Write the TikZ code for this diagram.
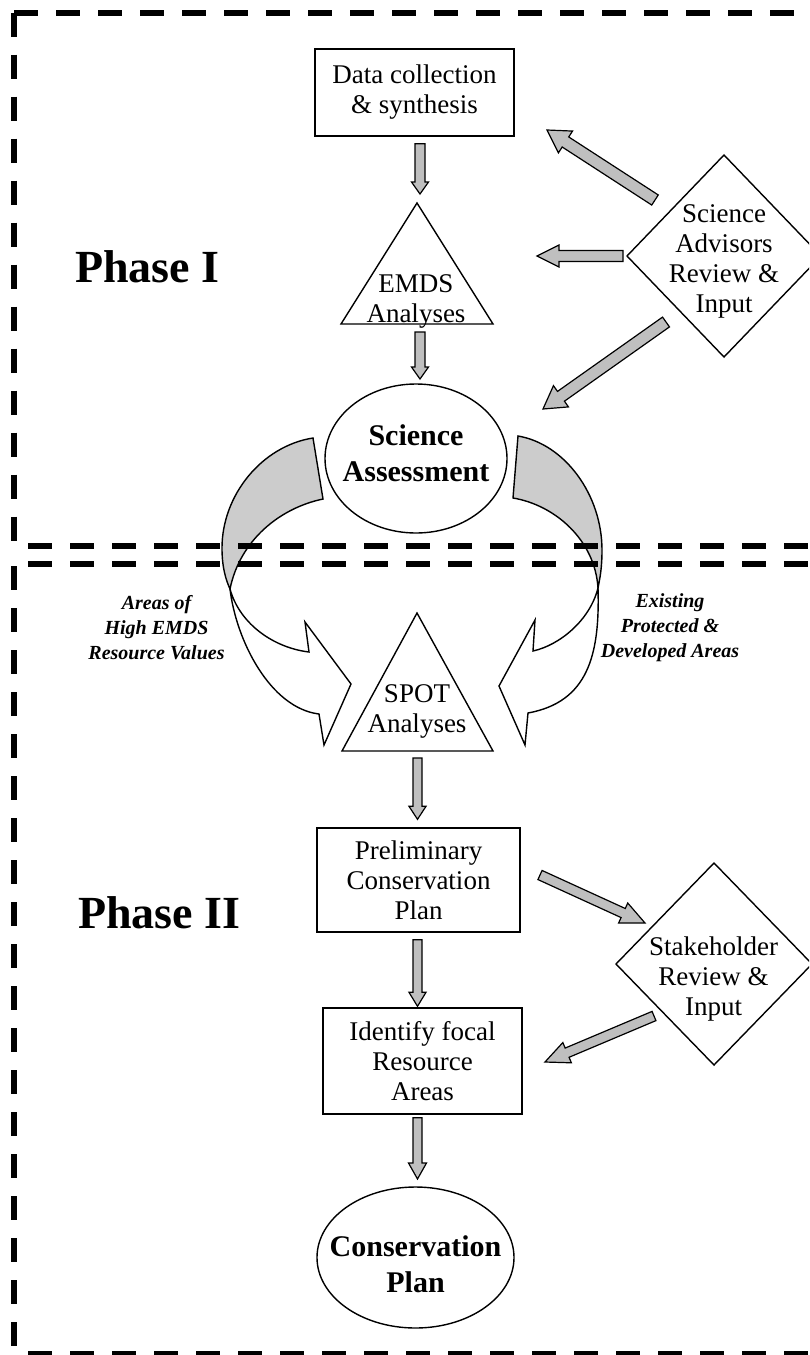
\documentclass[tikz,border=0pt]{standalone}
\usepackage{fontspec}
\setmainfont{Liberation Serif}
\usetikzlibrary{calc,shapes.geometric}
\newcommand{\nrmtxt}{\fontsize{27}{30}\selectfont}
\newcommand{\bldtxt}{\fontsize{30}{36}\selectfont\bfseries}
\newcommand{\sidetxt}{\fontsize{20}{25}\selectfont\bfseries\itshape}
\newcommand{\phasetxt}{\fontsize{46}{50}\selectfont\bfseries}
% block arrow: start, end, shaft half width, head half width, head length
\newcommand{\blockarr}[5]{%
  \coordinate (tmpB) at ($(#2)!#5!(#1)$);
  \filldraw[blockarrow] ($(#1)!#3!90:(#2)$) -- ($(tmpB)!#3!90:(#2)$) -- ($(tmpB)!#4!90:(#2)$) -- (#2) -- ($(tmpB)!#4!-90:(#2)$) -- ($(tmpB)!#3!-90:(#2)$) -- ($(#1)!#3!-90:(#2)$) -- cycle;}
\tikzset{
  shapeline/.style={draw=black, line width=1.4pt},
  boxnode/.style={shapeline, rectangle, fill=white, inner sep=0pt, align=center, font=\nrmtxt},
  txt/.style={align=center, inner sep=0pt, font=\nrmtxt},
  btxt/.style={align=center, inner sep=0pt, font=\bldtxt},
  sidelabel/.style={align=center, inner sep=0pt, font=\sidetxt},
  phaselabel/.style={anchor=base west, inner sep=0pt, font=\phasetxt},
  blockarrow/.style={draw=black, line width=1.2pt, fill=gray!50, line join=miter},
  curvewhite/.style={draw=black, line width=1.4pt, fill=white, line join=miter},
  curvegrey/.style={draw=black, line width=1.4pt, fill=gray!40, line join=miter},
  border/.style={line width=6pt, dash pattern=on 24pt off 18pt},
  emptyshape/.style={shapeline, fill=white, inner sep=0pt, outer sep=0pt}
}
\begin{document}
\begin{tikzpicture}[x=1pt,y=-1pt]
\useasboundingbox (0,0) rectangle (809,1355);
\clip (0,0) rectangle (809,1355);
\fill[white] (0,0) rectangle (809,1355);

% ---------- Phase I ----------
\node[boxnode, minimum width=199pt, minimum height=87pt] (dc) at (414.5,92.5) {Data collection\\\& synthesis};

\draw[shapeline, fill=white] (417,203) coordinate (emdsT) -- (493,324) coordinate (emdsR) -- (341,324) coordinate (emdsL) -- cycle;
\node[txt] (emds) at (416,301) {EMDS\\Analyses};

\node[emptyshape, ellipse, minimum width=182pt, minimum height=149pt] (sa) at (416,458.5) {};
\node[btxt] (satxt) at (416,453.5) {Science\\Assessment};

\node[emptyshape, diamond, minimum width=194pt, minimum height=202pt] (adv) at (724,256) {};
\node[txt] (advtxt) at (724,261) {Science\\Advisors\\Review \&\\Input};

\node[phaselabel] (ph1) at (75,282) {Phase I};

% vertical block arrows
\coordinate (a1s) at ($(dc.south)+(5.5,7)$);
\coordinate (a1e) at ($(emdsT)+(3,-9)$);
\blockarr{a1s}{a1e}{5pt}{8.5pt}{12pt}
\coordinate (a2s) at (420,332);
\coordinate (a2e) at ($(sa.north)+(4,-5)$);
\blockarr{a2s}{a2e}{5pt}{8.5pt}{12pt}

% advisor arrows
\coordinate (b1s) at (655,200);
\coordinate (b1e) at (547,130);
\blockarr{b1s}{b1e}{6pt}{13pt}{22pt}
\coordinate (b2s) at ($(adv.west)+(-4,0)$);
\coordinate (b2e) at (537,256);
\blockarr{b2s}{b2e}{5.5pt}{11pt}{22pt}
\coordinate (b3s) at (666,322);
\coordinate (b3e) at (543,409);
\blockarr{b3s}{b3e}{6pt}{13pt}{22pt}

% ---------- curved arrows ----------
% left
\filldraw[curvewhite] (230,589) .. controls (240,625) and (275,648) .. (309,652) -- (305,622) -- (351,684) -- (324,745) -- (319,714) .. controls (270,708) and (236,640) .. (230,589) -- cycle;
\filldraw[curvegrey] (313,438) .. controls (262,446) and (222,495) .. (222,548) .. controls (222,568) and (226,580) .. (230,589) .. controls (240,540) and (280,508) .. (323,499) -- cycle;
% right
\filldraw[curvewhite] (598,588) .. controls (590,620) and (560,645) .. (533,651) -- (535,620) -- (499,686) -- (525,745) -- (528,713) .. controls (588,702) and (600,655) .. (598,588) -- cycle;
\filldraw[curvegrey] (518,436) .. controls (565,444) and (602,495) .. (602,550) .. controls (602,568) and (600,578) .. (598,588) .. controls (595,540) and (555,505) .. (513,498) -- cycle;

\node[sidelabel] (lefttxt) at (156.5,628) {Areas of\\High EMDS\\Resource Values};
\node[sidelabel] (righttxt) at (670,627.7) {Existing\\Protected \&\\Developed Areas};

% ---------- Phase II ----------
\draw[shapeline, fill=white] (417,613) coordinate (spotT) -- (493,751) coordinate (spotR) -- (342,751) coordinate (spotL) -- cycle;
\node[txt] (spot) at (417,711.5) {SPOT\\Analyses};

\node[boxnode, minimum width=203pt, minimum height=104pt] (pcp) at (418.5,880) {Preliminary\\Conservation\\Plan};

\node[emptyshape, diamond, minimum width=196pt, minimum height=202pt] (stk) at (714,964) {};
\node[txt] (stktxt) at (713.5,979) {Stakeholder\\Review \&\\Input};

\node[boxnode, minimum width=199pt, minimum height=106pt] (ifr) at (422.5,1061) {Identify focal\\Resource\\Areas};

\node[emptyshape, ellipse, minimum width=197pt, minimum height=141pt] (cp) at (415.5,1257.5) {};
\node[btxt] (cptxt) at (415.5,1264) {Conservation\\Plan};

\node[phaselabel] (ph2) at (78,928) {Phase II};

\coordinate (c1s) at (417.5,758);
\coordinate (c1e) at ($(pcp.north)+(-1,-8)$);
\blockarr{c1s}{c1e}{4.5pt}{8.5pt}{13pt}
\coordinate (c2s) at ($(pcp.south)+(-1,7)$);
\coordinate (c2e) at ($(ifr.north)+(-5,-1)$);
\blockarr{c2s}{c2e}{4.5pt}{8.5pt}{14pt}
\coordinate (c3s) at ($(ifr.south)+(-5,3)$);
\coordinate (c3e) at ($(cp.north)+(2,-8)$);
\blockarr{c3s}{c3e}{4.5pt}{9pt}{16pt}

\coordinate (d1s) at (540,875);
\coordinate (d1e) at (645,923);
\blockarr{d1s}{d1e}{5pt}{11pt}{24pt}
\coordinate (d2s) at (654,1016);
\coordinate (d2e) at (545,1062);
\blockarr{d2s}{d2e}{5pt}{11pt}{24pt}

% ---------- dashed phase borders ----------
\draw[border] (14,12.5) -- (830,12.5);
\draw[border] (14,12.5) -- (14,545.5);
\draw[border, dash phase=28pt] (14,545.5) -- (830,545.5);
\draw[border, dash phase=28pt] (14,564) -- (830,564);
\draw[border] (14,566) -- (14,1354);
\draw[border, dash phase=28pt] (14,1354) -- (830,1354);
\end{tikzpicture}
\end{document}
